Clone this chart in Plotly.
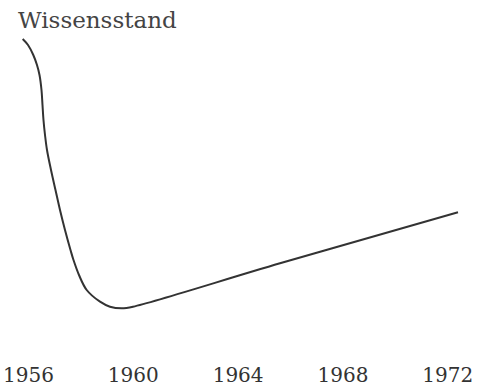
import plotly.graph_objects as go

# Data (year, knowledge level in arbitrary units)
years = [1955.778, 1955.981, 1956.183, 1956.324, 1956.420, 1956.496, 1956.534,
         1956.572, 1956.630, 1956.706, 1956.859, 1957.030, 1957.202, 1957.393,
         1957.603, 1957.717, 1957.927, 1958.221, 1958.729, 1959.110, 1959.557,
         1959.988, 1965.599, 1972.393]
level = [316, 310, 300, 290, 280, 265, 250,
         235, 220, 205, 185, 165, 145, 125,
         105, 95, 80, 65, 53.3, 48.3, 46.7,
         48.3, 91.7, 142.7]
tick_years = [1956, 1960, 1964, 1968, 1972]
tick_labels = ["1956", "1960", "1964", "1968", "1972"]
title_text = "Wissensstand"

fig = go.Figure()
fig.add_trace(go.Scatter(
    x=years, y=level, mode="lines",
    line=dict(color="#333333", width=2, shape="spline", smoothing=1.0),
    hoverinfo="skip", showlegend=False,
))

fig.update_layout(
    width=480, height=387,
    margin=dict(l=0, r=0, t=0, b=26),
    paper_bgcolor="white", plot_bgcolor="white",
    font=dict(family="DejaVu Serif", color="#333333"),
    title=dict(text=title_text, xref="container", yref="container",
               x=18 / 480, xanchor="left", y=1 - 20 / 387, yanchor="middle",
               font=dict(family="DejaVu Serif", size=23, color="#444444")),
    xaxis=dict(range=[1954.912, 1954.912 + 480 / 26.2], showgrid=False,
               zeroline=False, showline=False, tickmode="array",
               tickvals=tick_years, ticktext=tick_labels,
               tickfont=dict(family="DejaVu Serif", size=20, color="#333333"),
               ticks="", fixedrange=True),
    yaxis=dict(range=[-6, 355], visible=False, fixedrange=True),
)

fig.write_html("out.html")
